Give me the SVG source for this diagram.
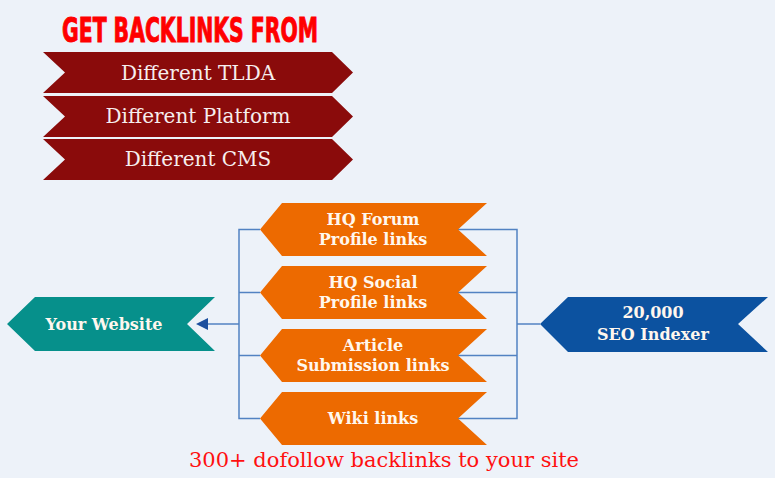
<svg xmlns="http://www.w3.org/2000/svg" width="775" height="478" viewBox="0 0 775 478">
<defs>
<style>
.bg{fill:#EDF2F9}
.red{fill:#8A0B0B}
.org{fill:#ED6A00}
.teal{fill:#06908B}
.blue{fill:#0C52A0}
.rt{font-family:"DejaVu Serif","Liberation Serif",serif;font-size:20px;fill:#F6EEEE;text-anchor:middle}
.bt{font-family:"DejaVu Serif","Liberation Serif",serif;font-size:16px;font-weight:bold;fill:#FFF7EE;text-anchor:middle}
.ln{stroke:#5282C2;stroke-width:1.5;fill:none}
</style>
<marker id="ah" viewBox="0 0 10 10" refX="0" refY="5" markerWidth="15" markerHeight="12" markerUnits="userSpaceOnUse" orient="auto-start-reverse">
<path d="M0,0 L10,5 L0,10 Z" fill="#1C4F9E"/>
</marker>
</defs>
<rect class="bg" x="0" y="0" width="775" height="478"/>
<text x="62" y="42" textLength="256" lengthAdjust="spacingAndGlyphs" font-family="'DejaVu Sans Condensed','Liberation Sans Narrow','Liberation Sans',sans-serif" font-weight="bold" font-size="33" fill="#FF0000" stroke="#FF0000" stroke-width="0.9">GET BACKLINKS FROM</text>
<g id="tlda"><polygon class="red" points="43,52 332,52 353,72.5 332,93 43,93 65,72.5"/><text class="rt" x="198" y="80">Different TLDA</text></g>
<g id="platform"><polygon class="red" points="43,96 332,96 353,116.5 332,137 43,137 65,116.5"/><text class="rt" x="198" y="123">Different Platform</text></g>
<g id="cms"><polygon class="red" points="43,139 332,139 353,159.5 332,180 43,180 65,159.5"/><text class="rt" x="198" y="166">Different CMS</text></g>
<g id="connectors">
<polyline class="ln" points="260,229.5 239,229.5 239,418.5 260,418.5"/>
<line class="ln" x1="239" y1="292.5" x2="260" y2="292.5"/>
<line class="ln" x1="239" y1="355.5" x2="260" y2="355.5"/>
<polyline class="ln" points="458,229.5 517,229.5 517,418.5 458,418.5"/>
<line class="ln" x1="458" y1="292.5" x2="517" y2="292.5"/>
<line class="ln" x1="458" y1="355.5" x2="517" y2="355.5"/>
<line class="ln" x1="517" y1="324" x2="540" y2="324"/>
<line class="ln" x1="239" y1="324" x2="208" y2="324" marker-end="url(#ah)"/>
</g>
<g id="forum"><polygon class="org" points="282,203 487,203 458,229.5 487,256 282,256 260,229.5"/><text class="bt" x="373" y="225">HQ Forum</text><text class="bt" x="373" y="245">Profile links</text></g>
<g id="social"><polygon class="org" points="282,266 487,266 458,292.5 487,319 282,319 260,292.5"/><text class="bt" x="373" y="288">HQ Social</text><text class="bt" x="373" y="308">Profile links</text></g>
<g id="article"><polygon class="org" points="282,329 487,329 458,355.5 487,382 282,382 260,355.5"/><text class="bt" x="373" y="351">Article</text><text class="bt" x="373" y="371">Submission links</text></g>
<g id="wiki"><polygon class="org" points="282,392 487,392 458,418.5 487,445 282,445 260,418.5"/><text class="bt" x="373" y="424">Wiki links</text></g>
<g id="website"><polygon class="teal" points="35,297 215,297 187,324 215,351 35,351 7,324"/><text class="bt" x="104" y="330" font-size="17">Your Website</text></g>
<g id="indexer"><polygon class="blue" points="568,297 768,297 738,324 768,352 568,352 540,324"/><text class="bt" x="653" y="318">20,000</text><text class="bt" x="653" y="340">SEO Indexer</text></g>
<text x="189" y="467" textLength="390" lengthAdjust="spacingAndGlyphs" font-family="'DejaVu Serif','Liberation Serif',serif" font-size="21" fill="#FF1010">300+ dofollow backlinks to your site</text>
</svg>
